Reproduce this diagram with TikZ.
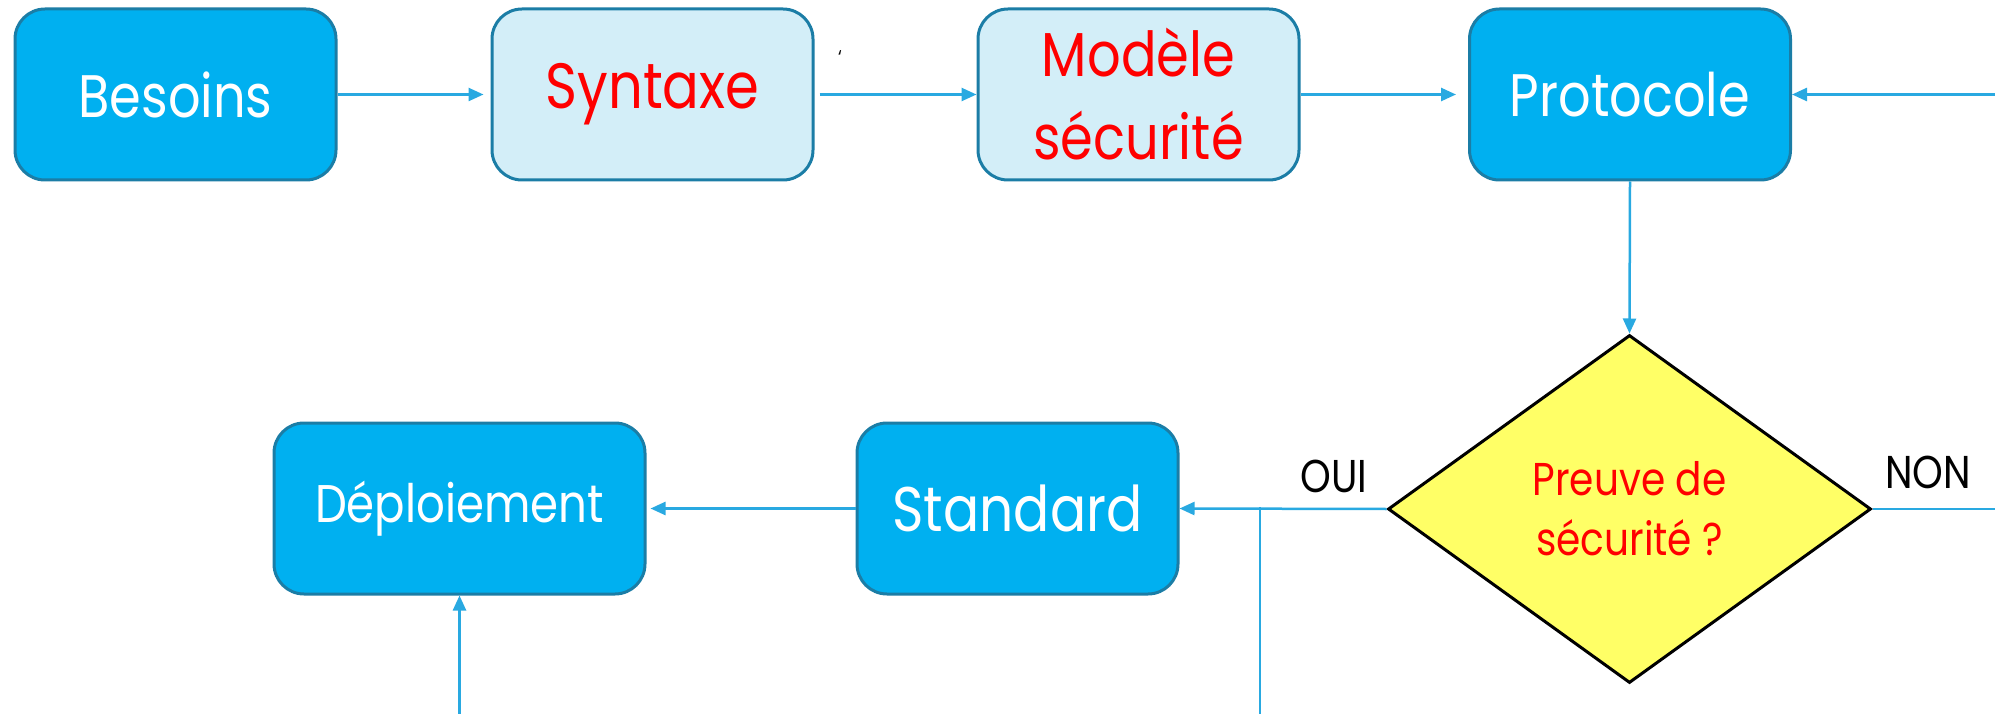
\documentclass[tikz,border=0pt]{standalone}
\usepackage{fontspec}
\setmainfont{Poppins}[FakeStretch=0.85]
\usetikzlibrary{arrows.meta,shapes.geometric}
\definecolor{boxblue}{HTML}{00B0F0}
\definecolor{boxlight}{HTML}{D3EEF8}
\definecolor{boxedge}{HTML}{1B7DA6}
\definecolor{conn}{HTML}{29A9E1}
\definecolor{diafill}{HTML}{FFFF66}
\definecolor{txtred}{HTML}{FF0000}
\tikzset{
  basebox/.style={rectangle, rounded corners=30pt, draw=boxedge, line width=3pt,
    minimum height=171pt, inner sep=0pt, align=center, font=\fontsize{60}{83}\selectfont},
  darkbox/.style={basebox, fill=boxblue, text=white},
  lightbox/.style={basebox, fill=boxlight, text=txtred},
  decision/.style={diamond, draw=black, line width=3pt, fill=diafill, inner sep=0pt,
    minimum width=483pt, minimum height=348pt, align=center, text=txtred,
    font=\fontsize{46}{60}\selectfont},
  link/.style={draw=conn, line width=2.5pt},
  arrowlink/.style={link, -{Triangle[length=15pt,width=13pt]}},
  lbl/.style={inner sep=0pt, font=\fontsize{46}{52}\selectfont, text=black}
}
\begin{document}
\begin{tikzpicture}[x=1pt,y=-1pt]
\useasboundingbox (0,0) rectangle (1995,714);
\node[darkbox, minimum width=321pt] (besoins) at (175.5,94.5) {Besoins};
\node[lightbox, minimum width=321pt, font=\fontsize{64}{83}\selectfont] (syntaxe) at (652.5,94.5) {Syntaxe};
\node[lightbox, minimum width=321pt, font=\fontsize{62}{83}\selectfont] (modele) at (1138.5,94.5) {Modèle\\sécurité};
\node[darkbox, minimum width=321pt] (protocole) at (1630,94.5) {Protocole};
\node[darkbox, minimum width=371pt, font=\fontsize{53}{60}\selectfont] (deploiement) at (459.5,508.5) {Déploiement};
\node[darkbox, minimum width=321pt, font=\fontsize{63}{70}\selectfont] (standard) at (1017.5,508.5) {Standard};
\node[decision] (preuve) at (1629.5,509) {Preuve de\\sécurité ?};
\node[lbl] (oui) at (1334,476) {OUI};
\node[lbl] (non) at (1928,472) {NON};
\node[inner sep=0pt, font=\fontsize{20}{24}\selectfont] (tick) at (840,58) {\symbol{96}};
\coordinate (rightin) at (1995,94.5);
\coordinate (rightout) at (1995,509);
\coordinate (junction) at (1260,507);
\coordinate (junctionbottom) at (1260,714);
\coordinate (depbottom) at (459.5,714);
\draw[arrowlink] (besoins.east) -- ([xshift=-7pt]syntaxe.west);
\draw[arrowlink] ([xshift=5pt]syntaxe.east) -- (modele.west);
\draw[arrowlink] (modele.east) -- ([xshift=-12pt]protocole.west);
\draw[arrowlink] (rightin) -- (protocole.east);
\draw[arrowlink] (protocole.south) -- (preuve.north);
\draw[arrowlink] (preuve.west) -- (standard.east);
\draw[link] (preuve.east) -- (rightout);
\draw[link] (junction) -- (junctionbottom);
\draw[arrowlink] (standard.west) -- ([xshift=4pt]deploiement.east);
\draw[arrowlink] (depbottom) -- (deploiement.south);
\end{tikzpicture}
\end{document}
